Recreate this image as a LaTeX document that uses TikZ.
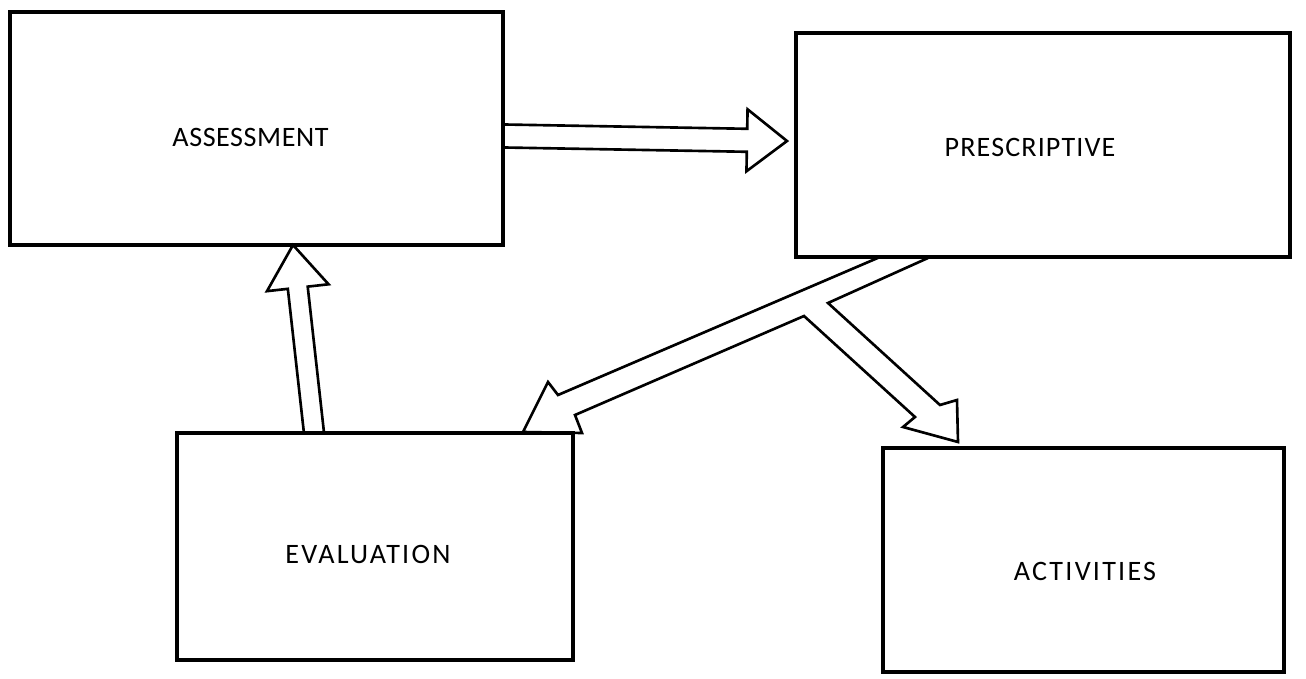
\documentclass[tikz,border=0pt]{standalone}
\usepackage{fontspec}
\setmainfont{Carlito}
\usetikzlibrary{calc}
\tikzset{
  box/.style={draw, line width=1.8pt, rectangle, inner sep=0pt},
  boxtext/.style={font=\fontsize{16}{18}\selectfont},
  arrowline/.style={draw, line width=1.5pt, line join=miter},
}
\newcommand{\blockarrow}[5]{%
  \coordinate (ba-h) at ($(#2)!#5!(#1)$);
  \draw[arrowline] ($(#1)!#3!90:(#2)$) -- ($(ba-h)!#3!90:(#2)$) -- ($(ba-h)!#4!90:(#2)$) -- (#2)
     -- ($(ba-h)!#4!-90:(#2)$) -- ($(ba-h)!#3!-90:(#2)$) -- ($(#1)!#3!-90:(#2)$);
}
\newcommand{\spacedtext}[2]{{\addfontfeatures{LetterSpace=#1}#2}}
\begin{document}
\begin{tikzpicture}[x=0.02cm, y=-0.02cm]
\useasboundingbox (0,0) rectangle (1306,679);

\node[box, minimum width=9.86cm, minimum height=4.66cm,
  label={[boxtext, xshift=-0.12cm, yshift=-0.17cm]center:\spacedtext{2}{ASSESSMENT}}] (assess) at (256.5,128.5) {};
\node[box, minimum width=9.88cm, minimum height=4.48cm,
  label={[boxtext, xshift=-0.26cm, yshift=-0.04cm]center:\spacedtext{4}{PRESCRIPTIVE}}] (presc) at (1043,145) {};
\node[box, minimum width=7.92cm, minimum height=4.54cm,
  label={[boxtext, xshift=-0.14cm, yshift=-0.15cm]center:\spacedtext{8}{EVALUATION}}] (eval) at (375,546.5) {};
\node[box, minimum width=8.02cm, minimum height=4.48cm,
  label={[boxtext, xshift=0.03cm, yshift=-0.22cm]center:\spacedtext{8}{ACTIVITIES}}] (act) at (1083.5,560) {};

% assessment -> prescriptive
\coordinate (a1s) at (assess.east |- 0,136);
\coordinate (a1e) at (787,141);
\blockarrow{a1s}{a1e}{0.23cm}{0.62cm}{0.8cm}

% evaluation -> assessment
\coordinate (a2s) at (314,433);
\coordinate (a2e) at (293,245);
\blockarrow{a2s}{a2e}{0.2cm}{0.62cm}{0.86cm}

% prescriptive -> evaluation and activities (branched)
\coordinate (p1) at (880,257);
\coordinate (p2) at (558,395);
\coordinate (p3) at (548,382);
\coordinate (p4) at (523,432);
\coordinate (p5) at (582,433);
\coordinate (p6) at (575,415);
\coordinate (p7) at (804,316);
\coordinate (p8) at (915,417);
\coordinate (p9) at (903,427);
\coordinate (p10) at (958,442);
\coordinate (p11) at (957,400);
\coordinate (p12) at (940,405);
\coordinate (p13) at (828,303);
\coordinate (p14) at (928,258);
\draw[arrowline] (p1) -- (p2) -- (p3) -- (p4) -- (p5) -- (p6) -- (p7) -- (p8) -- (p9) -- (p10) -- (p11) -- (p12) -- (p13) -- (p14);
\end{tikzpicture}
\end{document}
